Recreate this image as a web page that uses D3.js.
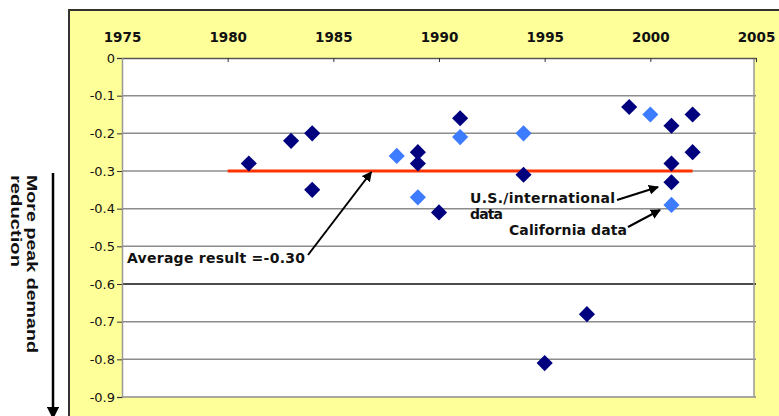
<!DOCTYPE html>
<html lang="en">
<head>
<meta charset="UTF-8">
<title>Peak demand reduction</title>
<script src="https://cdn.jsdelivr.net/npm/d3@7"></script>
<style>
  body { margin: 0; background: #fff; }
  svg { display: block; font-family: "DejaVu Sans", Verdana, sans-serif; }
</style>
</head>
<body>
<svg id="chart" width="779" height="416"></svg>
<script>
// data
const usYears = [1981, 1983, 1984, 1984, 1989, 1989, 1990, 1991, 1994, 1995, 1997, 1999, 2001, 2001, 2001, 2002, 2002]
const usValues = [-0.28, -0.22, -0.20, -0.35, -0.25, -0.28, -0.41, -0.16, -0.31, -0.81, -0.68, -0.13, -0.18, -0.28, -0.33, -0.15, -0.25]
const caYears = [1988, 1989, 1991, 1994, 2000, 2001]
const caValues = [-0.26, -0.37, -0.21, -0.20, -0.15, -0.39]
const avgYears = [1980, 2002]
const avgValue = -0.30
const xTicks = [1975, 1980, 1985, 1990, 1995, 2000, 2005]
const yTicks = [0, -0.1, -0.2, -0.3, -0.4, -0.5, -0.6, -0.7, -0.8, -0.9]

const svg = d3.select('#chart')

const x = d3.scaleLinear().domain([1975, 2005]).range([122, 756])
const y = d3.scaleLinear().domain([0, -0.9]).range([58, 397])

// yellow frame
svg.append('rect')
  .attr('x', 69).attr('y', 10)
  .attr('width', 760).attr('height', 440)
  .attr('fill', '#ffff99')
  .attr('stroke', '#333').attr('stroke-width', 2)

// plot area
svg.append('rect')
  .attr('x', x(1975)).attr('y', y(0))
  .attr('width', x(2005) - x(1975) - 2).attr('height', y(-0.9) - y(0))
  .attr('fill', '#fff')

// gridlines
svg.append('g')
  .selectAll('line')
  .data(yTicks.filter(d => d !== 0))
  .join('line')
  .attr('x1', x(1975)).attr('x2', x(2005))
  .attr('y1', d => y(d)).attr('y2', d => y(d))
  .attr('stroke', d => d === -0.6 ? '#111' : '#8c8c8c')
  .attr('stroke-width', 1.5)

// right edge of plot
svg.append('line')
  .attr('x1', x(2005) - 2).attr('x2', x(2005) - 2)
  .attr('y1', y(0)).attr('y2', y(-0.9))
  .attr('stroke', '#999').attr('stroke-width', 1.5)

// top axis
const xAxis = svg.append('g')
  .attr('transform', `translate(0,${y(0)})`)
  .call(d3.axisTop(x).tickValues(xTicks).tickFormat(d3.format('d'))
    .tickSizeInner(-4).tickSizeOuter(0).tickPadding(16))
xAxis.select('.domain').attr('stroke', '#555').attr('stroke-width', 1.5)
xAxis.selectAll('.tick line').attr('stroke', '#333')
xAxis.selectAll('text')
  .attr('font-size', 13.5).attr('font-weight', 'bold').attr('fill', '#111')
  .attr('font-family', '"DejaVu Sans", Verdana, sans-serif')

// left axis
const yAxis = svg.append('g')
  .attr('transform', `translate(${x(1975)},0)`)
  .call(d3.axisLeft(y).tickValues(yTicks)
    .tickFormat(d => d === 0 ? '0' : d.toFixed(1))
    .tickSize(5).tickPadding(2))
yAxis.select('.domain').attr('stroke', '#999').attr('stroke-width', 1.5)
yAxis.selectAll('.tick line').attr('stroke', '#333')
yAxis.selectAll('text')
  .attr('font-size', 13).attr('fill', '#111')
  .attr('font-family', '"DejaVu Sans", Verdana, sans-serif')

// average line
svg.append('line')
  .attr('x1', x(avgYears[0])).attr('x2', x(avgYears[1]))
  .attr('y1', y(avgValue)).attr('y2', y(avgValue))
  .attr('stroke', '#ff3300').attr('stroke-width', 3)

// points
const diamond = d3.symbol().type(d3.symbolSquare).size(130)
const usData = usYears.map((yr, i) => ({ yr, v: usValues[i] }))
const caData = caYears.map((yr, i) => ({ yr, v: caValues[i] }))

svg.append('g')
  .selectAll('path')
  .data(caData)
  .join('path')
  .attr('d', diamond)
  .attr('transform', d => `translate(${x(d.yr)},${y(d.v)}) rotate(45)`)
  .attr('fill', '#3d7bff')

svg.append('g')
  .selectAll('path')
  .data(usData)
  .join('path')
  .attr('d', diamond)
  .attr('transform', d => `translate(${x(d.yr)},${y(d.v)}) rotate(45)`)
  .attr('fill', '#00007f')

// arrow marker
svg.append('defs').append('marker')
  .attr('id', 'head')
  .attr('viewBox', '0 0 10 10')
  .attr('refX', 9).attr('refY', 5)
  .attr('markerWidth', 5).attr('markerHeight', 5)
  .attr('markerUnits', 'strokeWidth')
  .attr('orient', 'auto')
  .append('path')
  .attr('d', 'M0,0 L10,5 L0,10 z')
  .attr('fill', '#000')

const arrow = (x1, y1, x2, y2, w) => svg.append('line')
  .attr('x1', x1).attr('y1', y1).attr('x2', x2).attr('y2', y2)
  .attr('stroke', '#000').attr('stroke-width', w || 2)
  .attr('marker-end', 'url(#head)')

// lines: [text, width in px]
const label = (tx, ty, lines) => {
  const t = svg.append('text')
    .attr('x', tx).attr('y', ty)
    .attr('font-size', 14).attr('font-weight', 'bold').attr('fill', '#111')
  lines.forEach(([s, w], i) => t.append('tspan')
    .attr('x', tx).attr('dy', i ? 16 : 0)
    .attr('textLength', w).attr('lengthAdjust', 'spacing')
    .text(s))
}

// annotations
arrow(308, 255, x(1986.8), y(avgValue) + 1)
label(127, 263, [['Average result =-0.30', 178]])

arrow(617, 200, 658, 187)
label(470, 203, [['U.S./international', 145], ['data', 33]])

arrow(628, 227, 660, 210)
label(509, 235, [['California data', 118]])

// side label with arrow
arrow(53, 173, 53, 418, 2.5)
const side = svg.append('text')
  .attr('transform', 'translate(27,175) rotate(90)')
  .attr('font-family', '"Liberation Sans", Arial, sans-serif')
  .attr('font-size', 15.5).attr('font-weight', 'bold').attr('fill', '#111')
side.append('tspan').attr('x', 0)
  .attr('textLength', 178).attr('lengthAdjust', 'spacingAndGlyphs')
  .text('More peak demand')
side.append('tspan').attr('x', 0).attr('dy', 16)
  .attr('textLength', 92).attr('lengthAdjust', 'spacingAndGlyphs')
  .text('reduction')
</script>
</body>
</html>
